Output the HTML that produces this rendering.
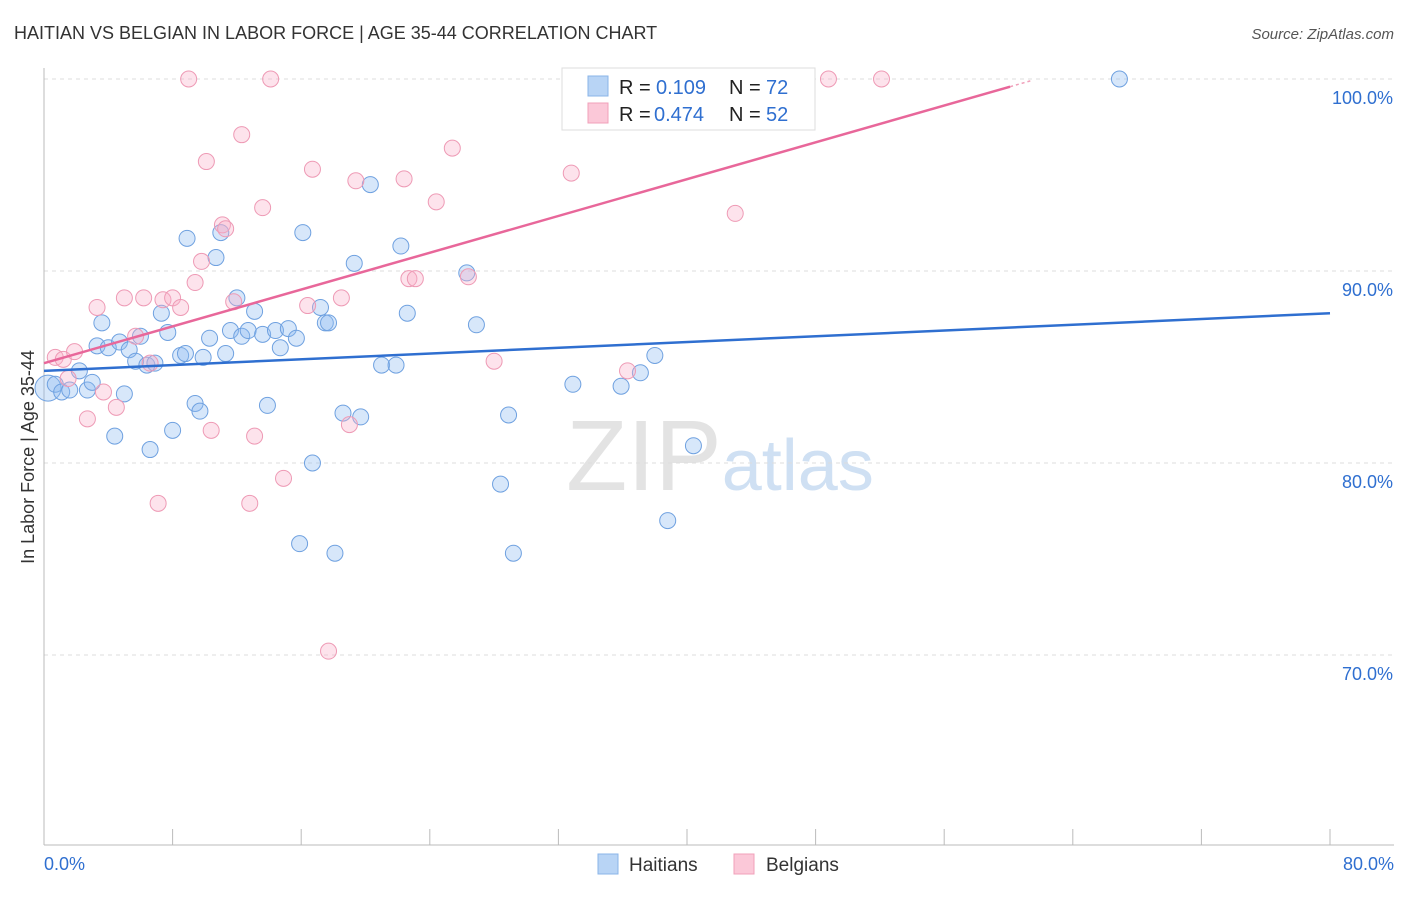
<!DOCTYPE html>
<html><head><meta charset="utf-8"><style>
body{margin:0;background:#fff;font-family:"Liberation Sans",sans-serif}
svg text{font-family:"Liberation Sans",sans-serif}
</style></head><body>
<svg id="chart" width="1406" height="892">
<text x="14" y="39" font-size="18" fill="#333">HAITIAN VS BELGIAN IN LABOR FORCE | AGE 35-44 CORRELATION CHART</text>
<text x="1394" y="39" font-size="15" fill="#555" text-anchor="end" font-style="italic">Source: ZipAtlas.com</text>
<text x="34" y="457" font-size="18" fill="#333" text-anchor="middle" transform="rotate(-90 34 457)">In Labor Force | Age 35-44</text>
<text x="720" y="490" font-size="100" fill="#e3e3e3" text-anchor="middle" font-family="Liberation Serif">ZIP<tspan fill="#cfe0f3" font-family="Liberation Sans" font-size="72">atlas</tspan></text>
<g id="grid"></g><g id="axes"></g><g id="marks"></g>
<g>
<rect x="562" y="68" width="253" height="62" fill="#fff" stroke="#ddd"/>
<rect x="588" y="76" width="20" height="20" fill="#b8d4f5" stroke="#8ab4e8"/>
<rect x="588" y="103" width="20" height="20" fill="#fbc8d8" stroke="#f0a0ba"/>
<text x="619" y="94" font-size="20" fill="#222">R =</text>
<text x="656" y="94" font-size="20" fill="#2f6fd0">0.109</text>
<text x="729" y="94" font-size="20" fill="#222">N =</text>
<text x="766" y="94" font-size="20" fill="#2f6fd0">72</text>
<text x="619" y="121" font-size="20" fill="#222">R =</text>
<text x="654" y="121" font-size="20" fill="#2f6fd0">0.474</text>
<text x="729" y="121" font-size="20" fill="#222">N =</text>
<text x="766" y="121" font-size="20" fill="#2f6fd0">52</text>
</g>
<g>
<rect x="598" y="854" width="20" height="20" fill="#b8d4f5" stroke="#8ab4e8"/>
<text x="629" y="871" font-size="19" fill="#333">Haitians</text>
<rect x="734" y="854" width="20" height="20" fill="#fbc8d8" stroke="#f0a0ba"/>
<text x="766" y="871" font-size="19" fill="#333">Belgians</text>
</g>
</svg>
<script>
const yTicks=[100,90,80,70];
const yTickLabels=["100.0%","90.0%","80.0%","70.0%"];
const xTickLabels=["0.0%","80.0%"];
const haitianX=[0.25,0.7,1.1,1.6,2.2,2.7,3.0,3.3,3.6,4.0,4.4,4.7,5.0,5.3,5.7,6.0,6.4,6.6,6.9,7.3,7.7,8.0,8.5,8.8,8.9,9.4,9.7,9.9,10.3,10.7,11.0,11.3,11.6,12.0,12.3,12.7,13.1,13.6,13.9,14.4,14.7,15.2,15.7,15.9,16.1,16.7,17.2,17.5,17.7,18.1,18.6,19.3,19.7,20.3,21.0,21.9,22.2,22.6,26.3,26.9,28.4,28.9,29.2,32.9,35.9,37.1,38.0,38.8,40.4,66.9];
const haitianY=[83.9,84.1,83.7,83.8,84.8,83.8,84.2,86.1,87.3,86.0,81.4,86.3,83.6,85.9,85.3,86.6,85.1,80.7,85.2,87.8,86.8,81.7,85.6,85.7,91.7,83.1,82.7,85.5,86.5,90.7,92.0,85.7,86.9,88.6,86.6,86.9,87.9,86.7,83.0,86.9,86.0,87.0,86.5,75.8,92.0,80.0,88.1,87.3,87.3,75.3,82.6,90.4,82.4,94.5,85.1,85.1,91.3,87.8,89.9,87.2,78.9,82.5,75.3,84.1,84.0,84.7,85.6,77.0,80.9,100.0];
const belgianX=[0.7,1.2,1.5,1.9,2.7,3.3,3.7,4.5,5.0,5.7,6.2,6.6,7.1,7.4,8.0,8.5,9.0,9.4,9.8,10.1,10.4,11.1,11.3,11.8,12.3,12.8,13.1,13.6,14.1,14.9,16.4,16.7,17.7,18.5,19.0,19.4,22.4,22.7,23.1,24.4,25.4,26.4,28.0,32.8,36.3,43.0,43.8,48.8,52.1];
const belgianY=[85.5,85.4,84.4,85.8,82.3,88.1,83.7,82.9,88.6,86.6,88.6,85.2,77.9,88.5,88.6,88.1,100,89.4,90.5,95.7,81.7,92.4,92.2,88.4,97.1,77.9,81.4,93.3,100,79.2,88.2,95.3,70.2,88.6,82.0,94.7,94.8,89.6,89.6,93.6,96.4,89.7,85.3,95.1,84.8,93.0,100,100,100];
const haitianTrend=[84.8,87.8];
const belgianTrend=[85.2,99.6];
const belgianTrendEndX=60.1;
const ns="http://www.w3.org/2000/svg";
const X=v=>44+v*16.075, Y=v=>79+(100-v)*19.2;
function mk(t,a,p){const e=document.createElementNS(ns,t);for(const k in a)e.setAttribute(k,a[k]);document.getElementById(p).appendChild(e);return e;}
yTicks.forEach((t,i)=>{
 const l=mk('line',{x1:44,x2:1394,y1:Y(t),y2:Y(t),stroke:'#ddd','stroke-dasharray':'4,4'},'grid');
 
 
 const tx=mk('text',{x:1393,y:Y(t)+25,'font-size':18,fill:'#2f6fd0','text-anchor':'end'},'axes');tx.textContent=yTickLabels[i];
 
 
});
const ax=mk('line',{x1:44,x2:44,y1:68,y2:845,stroke:'#bbb'},'axes');


const bx=mk('line',{x1:44,x2:1394,y1:845,y2:845,stroke:'#bbb'},'axes');


for(let i=0;i<=10;i++){const t=mk('line',{x1:X(i*8),x2:X(i*8),y1:829,y2:845,stroke:'#bbb'},'axes');
 
 }
[[0,'start',44],[80,'end',1394]].forEach((d,i)=>{const t=mk('text',{x:d[2],y:870,'font-size':18,fill:'#2f6fd0','text-anchor':d[1]},'axes');t.textContent=xTickLabels[i];
 
 });
haitianX.forEach((x,i)=>{const c=mk('circle',{cx:X(x),cy:Y(haitianY[i]),r:i==0?13:8,fill:'rgba(140,185,240,0.35)',stroke:'#6fa1e0','stroke-width':1},'marks');
 
 });
belgianX.forEach((x,i)=>{const c=mk('circle',{cx:X(x),cy:Y(belgianY[i]),r:8,fill:'rgba(248,175,200,0.35)',stroke:'#ee9ab5','stroke-width':1},'marks');
 
 });
const hl=mk('line',{x1:X(0),y1:Y(haitianTrend[0]),x2:X(80),y2:Y(haitianTrend[1]),stroke:'#2f6fd0','stroke-width':2.5},'marks');


const bl=mk('line',{x1:X(0),y1:Y(belgianTrend[0]),x2:X(belgianTrendEndX),y2:Y(belgianTrend[1]),stroke:'#e8679a','stroke-width':2.5},'marks');


const slope=(belgianTrend[1]-belgianTrend[0])/belgianTrendEndX;
const bd=mk('line',{x1:X(belgianTrendEndX),y1:Y(belgianTrend[1]),x2:X(61.4),y2:Y(belgianTrend[0]+slope*61.4),stroke:'#f0a0ba','stroke-width':1.5,'stroke-dasharray':'3,3'},'marks');


</script>
</body></html>
